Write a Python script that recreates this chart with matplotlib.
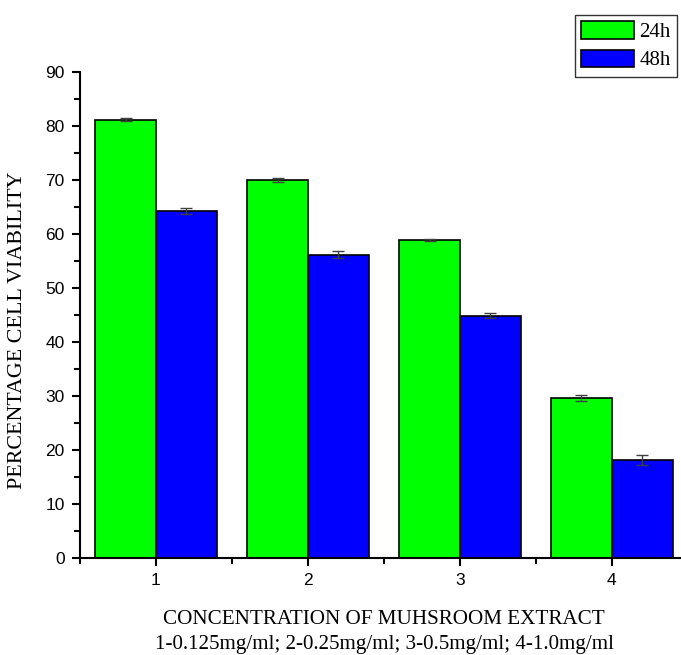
import numpy as np
import matplotlib
matplotlib.use('Agg')
import matplotlib.pyplot as plt
from matplotlib.ticker import MultipleLocator

# Data
concentrations = [1, 2, 3, 4]
viability_24h = [81.2, 70.0, 58.9, 29.6]
viability_48h = [64.3, 56.2, 44.9, 18.2]
err_24h = [0.2, 0.4, 0.2, 0.6]
err_48h = [0.5, 0.7, 0.5, 0.9]
series_labels = ['24h', '48h']

serif = ['Liberation Serif', 'DejaVu Serif']
sans = ['Liberation Sans', 'DejaVu Sans']

fig = plt.figure(figsize=(6.81, 6.55), dpi=100)
ax = fig.add_axes([0.1175, 0.148, 0.8825, 0.742])

x = np.array(concentrations, dtype=float)
w = 0.4
err_kw = dict(ecolor='#404040', elinewidth=1.0, capsize=4, capthick=1.0)
ax.bar(x - w / 2, viability_24h, w, yerr=err_24h, color='#00ff00',
       edgecolor='black', linewidth=1.2, label=series_labels[0],
       error_kw=err_kw, zorder=2)
ax.bar(x + w / 2, viability_48h, w, yerr=err_48h, color='#0000ff',
       edgecolor='black', linewidth=1.2, label=series_labels[1],
       error_kw=err_kw, zorder=2)

ax.set_xlim(0.5, 4.455)
ax.set_ylim(0, 90)
ax.set_xticks(concentrations)
ax.xaxis.set_minor_locator(MultipleLocator(1, offset=0.5))
ax.yaxis.set_major_locator(MultipleLocator(10))
ax.yaxis.set_minor_locator(MultipleLocator(5))

for side in ['top', 'right']:
    ax.spines[side].set_visible(False)
for side in ['left', 'bottom']:
    ax.spines[side].set_linewidth(1.5)
ax.spines['bottom'].set_zorder(3)

ax.tick_params(which='major', direction='out', length=6, width=1.5,
               labelsize=12.5, pad=5)
ax.tick_params(which='minor', direction='out', length=4, width=1.5)
for lab in ax.get_xticklabels() + ax.get_yticklabels():
    lab.set_family(sans)

ax.set_ylabel('PERCENTAGE CELL VIABILITY', family=serif, fontsize=15.8)
ax.yaxis.set_label_coords(-0.088, 0.469)

# two-line x caption
fig.text(384 / 681, 1 - 619 / 655, 'CONCENTRATION OF MUHSROOM EXTRACT',
         family=serif, fontsize=15.2, ha='center', va='center')
fig.text(384 / 681, 1 - 644 / 655,
         '1-0.125mg/ml; 2-0.25mg/ml; 3-0.5mg/ml; 4-1.0mg/ml',
         family=serif, fontsize=15.1, ha='center', va='center')

leg = ax.legend(loc='upper right', bbox_to_anchor=(0.993, 1.117),
                prop={'family': serif, 'size': 15}, frameon=True,
                fancybox=False, edgecolor='black', handlelength=2.55,
                handleheight=0.9, handletextpad=0.25, borderpad=0.3,
                labelspacing=0.35, borderaxespad=0)
leg.get_frame().set_linewidth(1.0)

fig.savefig('out.png', dpi=100)
